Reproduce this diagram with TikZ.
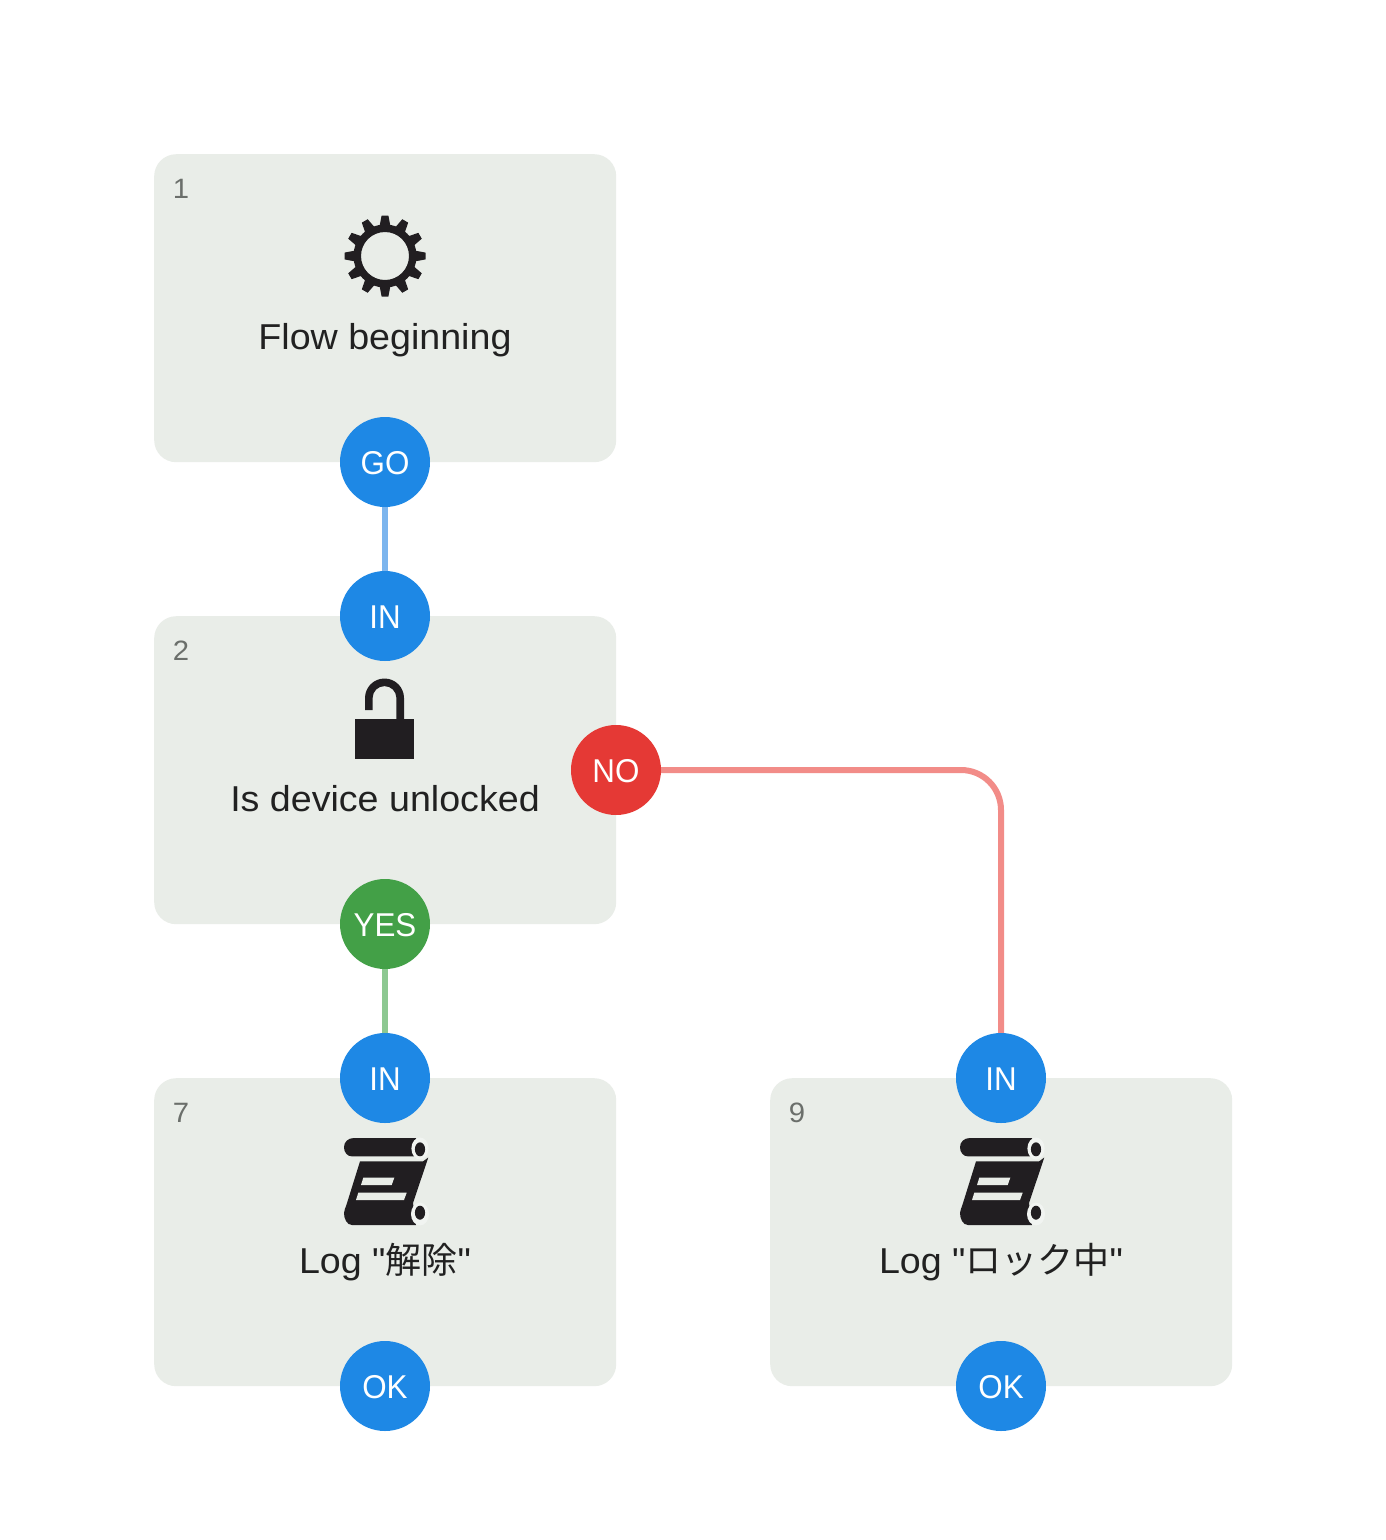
\documentclass[tikz,border=0pt]{standalone}
\usepackage{fontspec}
\setmainfont{Liberation Sans}
\newfontfamily\lib[FakeStretch=1.045]{Liberation Sans}
\newfontfamily\libp[FakeStretch=0.95]{Liberation Sans}
\newfontfamily\cjk{Noto Sans CJK JP}
\definecolor{boxfill}{HTML}{E9EDE8}
\definecolor{ringc}{HTML}{F1F4F1}
\definecolor{inkc}{HTML}{212121}
\definecolor{numc}{HTML}{6B6F6B}
\definecolor{blue1}{HTML}{1E88E5}
\definecolor{red1}{HTML}{E53935}
\definecolor{green1}{HTML}{43A047}
\definecolor{blueL}{HTML}{7CB5EE}
\definecolor{redL}{HTML}{F28C88}
\definecolor{greenL}{HTML}{8DC891}
\definecolor{iconc}{HTML}{211E21}
\tikzset{
 x=1pt,y=-1pt,
 card/.style={fill=boxfill,draw=none,rounded corners=22pt,minimum width=462pt,minimum height=308pt,inner sep=0pt,anchor=north west},
 num/.style={text=numc,font=\lib\fontsize{28}{30}\selectfont,inner sep=0pt,anchor=base},
 ttl/.style={text=inkc,font=\lib\fontsize{36}{40}\selectfont,inner sep=0pt,anchor=base},
 port/.style={circle,minimum size=90pt,inner sep=0pt,fill=blue1},
 plabel/.style={text=white,font=\libp\fontsize{33}{36}\selectfont,inner sep=0pt,anchor=base},
 pblue/.style={port,fill=blue1},pred/.style={port,fill=red1},pgreen/.style={port,fill=green1},
 wire/.style={line width=6pt},
}
\newcommand{\scrollicon}[2]{%
 \begin{scope}[shift={(#1,#2)}]
  \fill[iconc] (72,0) -- (10,0) .. controls (4,0) and (0,4) .. (0,9.2) .. controls (0,14) and (3,18.4) .. (8,18.4) -- (72,18.4) -- cycle;
  \fill[iconc] (16,23.4) -- (79,23.4) -- (84.3,19.5) -- (69,65) -- (72,87) -- (8,87) .. controls (3,87) and (0,81) .. (0,75) .. controls (0,72) and (1.6,70) .. (2.7,66) -- cycle;
  \fill[ringc] (76,10.5) ellipse[x radius=8.6pt,y radius=11pt];
  \fill[ringc] (76,76) ellipse[x radius=9pt,y radius=11.4pt];
  \fill[iconc] (76,11.3) ellipse[x radius=5.1pt,y radius=7pt];
  \fill[iconc] (76,74.7) ellipse[x radius=5.1pt,y radius=7pt];
  \fill[boxfill] (19.3,39.7) -- (50.3,39.7) -- (47.7,47) -- (17,47) -- cycle;
  \fill[boxfill] (14.3,54.7) -- (62.7,54.7) -- (60,62) -- (12,62) -- cycle;
 \end{scope}}
\begin{document}
\begin{tikzpicture}
\useasboundingbox (0,0) rectangle (1386,1540);
\fill[white] (0,0) rectangle (1386,1540);
\node[card] (c1) at (154,154) {};
\node[card] (c2) at (154,616) {};
\node[card] (c7) at (154,1078) {};
\node[card] (c9) at (770,1078) {};
\node[num] (n1) at (181,198) {1};
\node[num] (n2) at (181,660) {2};
\node[num] (n7) at (181,1122) {7};
\node[num] (n9) at (797,1122) {9};
% gear
\fill[iconc,even odd rule] (385,256) circle[radius=31.5pt] (385,256) circle[radius=24pt];
\foreach \a in {0,30,...,330}{
 \fill[iconc,rotate around={\a:(385,256)}] (379.6,226) -- (381.6,215.5) -- (388.4,215.5) -- (390.4,226) -- cycle;
}
% lock
\fill[iconc] (354.5,718.7) rectangle (413.7,758.7);
\fill[iconc] (365,710) -- (365,698) arc[start angle=180,end angle=0,radius=19.5pt] -- (404,719) -- (396.4,719) -- (396.4,698) arc[start angle=0,end angle=180,radius=11.9pt] -- (372.6,710) -- cycle;
\scrollicon{344}{1138}
\scrollicon{960}{1138}
\node[ttl] (t1) at (385,349.2) {Flow beginning};
\node[ttl] (t2) at (385,811.2) {Is device unlocked};
\node[ttl] (t7) at (385,1273.2) {Log "{\cjk 解除}"};
\node[ttl] (t9) at (1001,1273.2) {Log "{\cjk ロック中}"};
\node[pblue] (go) at (385,462) {};
\node[pblue] (in2) at (385,616) {};
\node[pred] (no) at (616,770) {};
\node[pgreen] (yes) at (385,924) {};
\node[pblue] (in7) at (385,1078) {};
\node[pblue] (in9) at (1001,1078) {};
\node[pblue] (ok7) at (385,1386) {};
\node[pblue] (ok9) at (1001,1386) {};
\node[plabel] (lgo) at (385,474.2) {GO};
\node[plabel] (lin2) at (385,628.2) {IN};
\node[plabel] (lno) at (616,782.2) {NO};
\node[plabel] (lyes) at (385,936.2) {YES};
\node[plabel] (lin7) at (385,1090.2) {IN};
\node[plabel] (lin9) at (1001,1090.2) {IN};
\node[plabel] (lok7) at (385,1398.2) {OK};
\node[plabel] (lok9) at (1001,1398.2) {OK};
\draw[wire,blueL] (go) -- (in2);
\draw[wire,greenL] (yes) -- (in7);
\draw[wire,redL,rounded corners=40pt] (no.east) -- (in9.north |- no.east) -- (in9.north);
\end{tikzpicture}
\end{document}
